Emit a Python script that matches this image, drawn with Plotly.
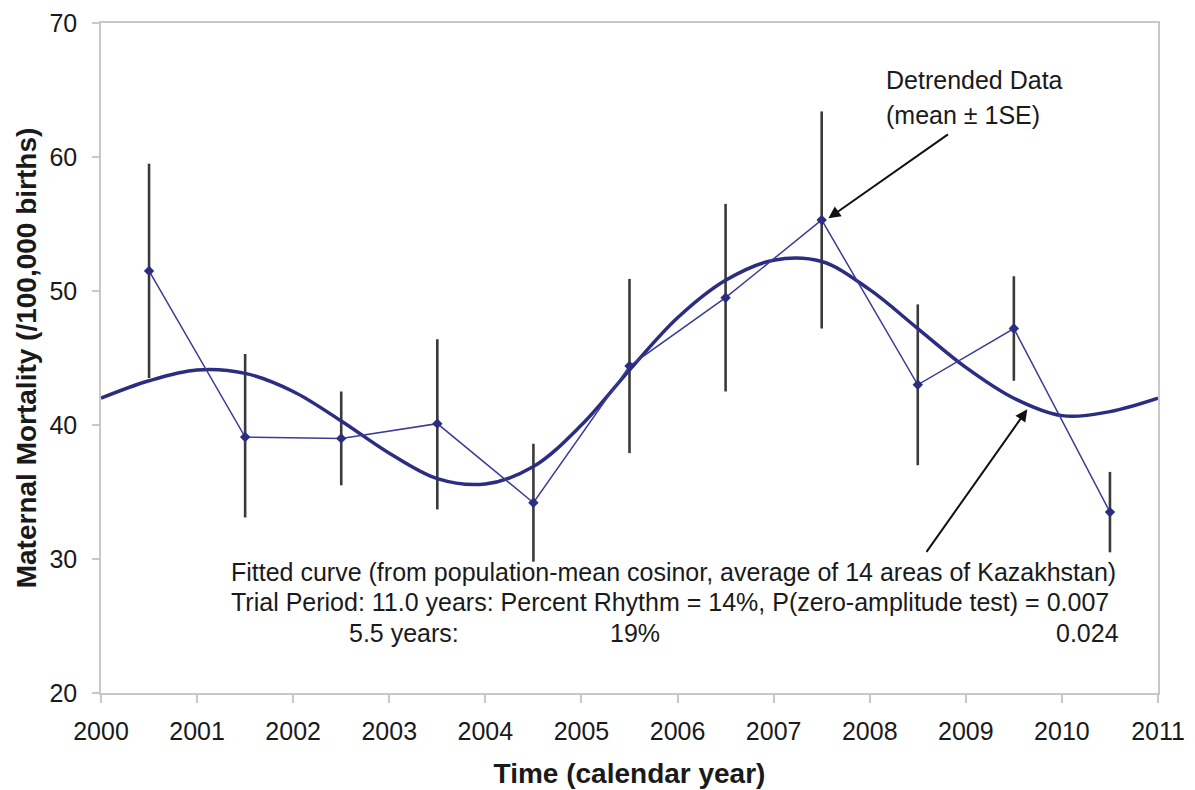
import plotly.graph_objects as go

# Detrended data (mean ± 1SE)
years = [2000.5, 2001.5, 2002.5, 2003.5, 2004.5, 2005.5, 2006.5, 2007.5, 2008.5, 2009.5, 2010.5]
mean_vals = [51.5, 39.1, 39.0, 40.1, 34.2, 44.4, 49.5, 55.3, 43.0, 47.2, 33.5]
upper_vals = [59.5, 45.3, 42.5, 46.4, 38.6, 50.9, 56.5, 63.4, 49.0, 51.1, 36.5]
lower_vals = [43.5, 33.1, 35.5, 33.7, 29.8, 37.9, 42.5, 47.2, 37.0, 43.3, 30.5]

# Fitted cosinor curve
curve_x = [2000.0, 2000.5, 2001.0, 2001.5, 2002.0, 2002.5, 2003.0, 2003.5, 2004.0, 2004.5,
           2005.0, 2005.5, 2006.0, 2006.5, 2007.0, 2007.5, 2008.0, 2008.5, 2009.0, 2009.5,
           2010.0, 2010.5, 2011.0]
curve_y = [42.0, 43.3, 44.1, 43.85, 42.5, 40.3, 37.9, 36.0, 35.6, 36.9,
           40.0, 44.1, 48.0, 50.8, 52.3, 52.2, 50.1, 47.2, 44.3, 42.0,
           40.7, 41.0, 42.0]

x_ticks = list(range(2000, 2012))
y_ticks = [20, 30, 40, 50, 60, 70]

NAVY = "#2B2D80"
FONT = "Arial, Liberation Sans, sans-serif"
TXT = "#1a1a1a"

err_plus = [u - m for u, m in zip(upper_vals, mean_vals)]
err_minus = [m - l for m, l in zip(mean_vals, lower_vals)]

fig = go.Figure()

# error bars (behind lines)
fig.add_trace(go.Scatter(
    x=years, y=mean_vals, mode="markers",
    marker=dict(size=1, color="rgba(0,0,0,0)"),
    error_y=dict(type="data", symmetric=False, array=err_plus, arrayminus=err_minus,
                 color="#3a3a3a", thickness=2.6, width=0),
    showlegend=False, hoverinfo="skip"))

# fitted curve
fig.add_trace(go.Scatter(
    x=curve_x, y=curve_y, mode="lines",
    line=dict(color=NAVY, width=3.5, shape="spline", smoothing=1.0),
    showlegend=False))

# detrended data line
fig.add_trace(go.Scatter(
    x=years, y=mean_vals, mode="lines+markers",
    line=dict(color="#3A3C96", width=1.5),
    marker=dict(symbol="diamond", size=8, color=NAVY),
    showlegend=False))

ann_font = dict(family=FONT, size=25, color=TXT)

annotations = [
    dict(x=2008.15, y=65.75, xref="x", yref="y", text="Detrended Data",
         showarrow=False, xanchor="left", yanchor="middle", font=ann_font),
    dict(x=2008.15, y=63.1, xref="x", yref="y", text="(mean ± 1SE)",
         showarrow=False, xanchor="left", yanchor="middle", font=ann_font),
    dict(x=2001.33, y=29.03, xref="x", yref="y",
         text="Fitted curve (from population-mean cosinor, average of 14 areas of Kazakhstan)",
         showarrow=False, xanchor="left", yanchor="middle", font=ann_font),
    dict(x=2001.33, y=26.77, xref="x", yref="y",
         text="Trial Period: 11.0 years: Percent Rhythm = 14%, P(zero-amplitude test) = 0.007",
         showarrow=False, xanchor="left", yanchor="middle", font=ann_font),
    dict(x=2002.56, y=24.46, xref="x", yref="y", text="5.5 years:",
         showarrow=False, xanchor="left", yanchor="middle", font=ann_font),
    dict(x=2005.56, y=24.46, xref="x", yref="y", text="19%",
         showarrow=False, xanchor="center", yanchor="middle", font=ann_font),
    dict(x=2010.61, y=24.46, xref="x", yref="y", text="0.024",
         showarrow=False, xanchor="right", yanchor="middle", font=ann_font),
    # arrows
    dict(x=2007.57, y=55.43, ax=2008.83, ay=61.77, xref="x", yref="y", axref="x", ayref="y",
         text="", showarrow=True, arrowhead=2, arrowsize=1.2, arrowwidth=2, arrowcolor="#111111"),
    dict(x=2009.64, y=41.17, ax=2008.58, ay=30.42, xref="x", yref="y", axref="x", ayref="y",
         text="", showarrow=True, arrowhead=2, arrowsize=1.2, arrowwidth=2, arrowcolor="#111111"),
]

fig.update_layout(
    width=1195, height=790,
    margin=dict(l=101, r=37, t=23, b=97),
    paper_bgcolor="white", plot_bgcolor="white",
    font=dict(family=FONT, color=TXT),
    annotations=annotations,
    showlegend=False,
)

fig.update_xaxes(
    range=[2000, 2011], tickmode="array", tickvals=x_ticks,
    ticktext=[str(v) for v in x_ticks],
    showgrid=False, zeroline=False, automargin=False,
    showline=True, linecolor="#c8c8c8", linewidth=1.5, mirror=True,
    ticks="outside", ticklen=8, tickcolor="#c8c8c8", tickwidth=1.5,
    tickfont=dict(family=FONT, size=25, color=TXT),
    ticklabelstandoff=7,
    title=dict(text="<b>Time (calendar year)</b>", font=dict(family=FONT, size=28, color=TXT), standoff=20),
)
fig.update_yaxes(
    range=[20, 70], tickmode="array", tickvals=y_ticks,
    ticktext=[str(v) for v in y_ticks],
    showgrid=False, zeroline=False, automargin=False,
    showline=True, linecolor="#c8c8c8", linewidth=1.5, mirror=True,
    ticks="outside", ticklen=7, tickcolor="#c8c8c8", tickwidth=1.5,
    tickfont=dict(family=FONT, size=25, color=TXT),
    ticklabelstandoff=10,
    title=dict(text="<b>Maternal Mortality (/100,000 births)</b>", font=dict(family=FONT, size=28, color=TXT), standoff=5),
)

fig.write_html("out.html")
